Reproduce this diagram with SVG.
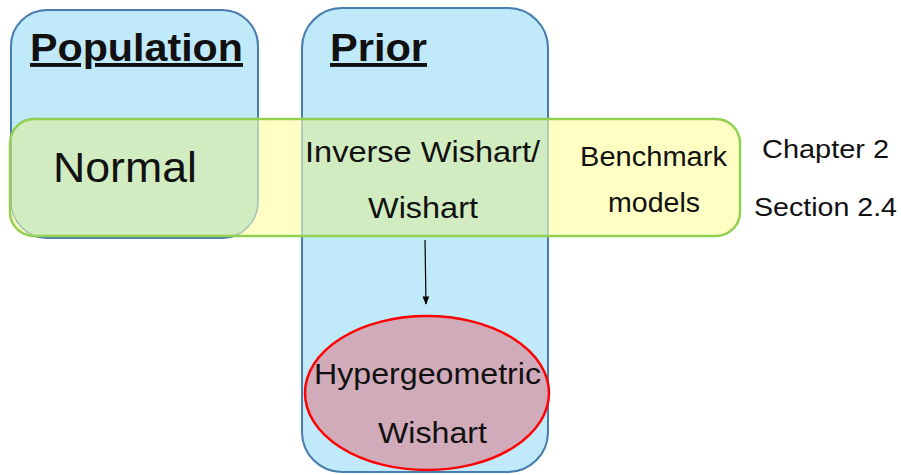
<svg xmlns="http://www.w3.org/2000/svg" width="901" height="475" viewBox="0 0 901 475">
<style>
.blue{fill:#c0e9f9;stroke:#4a7eb0;stroke-width:2}
.band{fill:#ffffc4}
.ov{fill:#d0ecc0}
.bandline{fill:none;stroke:#92d050;stroke-width:2.5}
.t{font-family:"Liberation Sans",Arial,sans-serif;fill:#111}
.h{font-weight:bold;text-decoration:underline}
</style>
<defs>
<clipPath id="cpPop"><rect x="11" y="10" width="247" height="228" rx="36"/></clipPath>
<clipPath id="cpPrior"><rect x="302" y="8" width="246" height="464" rx="40"/></clipPath>
<marker id="ah" viewBox="0 0 10 10" refX="9" refY="5" markerWidth="7" markerHeight="7" orient="auto"><path d="M0,1 L10,5 L0,9 z" fill="#000"/></marker>
</defs>
<g id="population">
<rect class="blue" x="11" y="10" width="247" height="228" rx="36"/>
<text class="t h" x="30" y="61" font-size="39" textLength="213" lengthAdjust="spacingAndGlyphs">Population</text>
</g>
<g id="prior">
<rect class="blue" x="302" y="8" width="246" height="464" rx="40"/>
<text class="t h" x="330" y="61" font-size="39" textLength="97" lengthAdjust="spacingAndGlyphs">Prior</text>
</g>
<g id="benchmark">
<rect class="band" x="10" y="119" width="730" height="117" rx="24"/>
<rect class="ov" x="10" y="119" width="730" height="117" rx="24" clip-path="url(#cpPop)"/>
<rect class="ov" x="10" y="119" width="730" height="117" rx="24" clip-path="url(#cpPrior)"/>
<rect x="11" y="10" width="247" height="228" rx="36" fill="none" stroke="#4a7eb0" stroke-width="1.5" opacity="0.45"/>
<rect x="302" y="8" width="246" height="464" rx="40" fill="none" stroke="#4a7eb0" stroke-width="1.5" opacity="0.45"/>
<rect class="bandline" x="10" y="119" width="730" height="117" rx="24"/>
<text class="t" x="580" y="166" font-size="27" textLength="147" lengthAdjust="spacingAndGlyphs">Benchmark</text>
<text class="t" x="608" y="212" font-size="28" textLength="92" lengthAdjust="spacingAndGlyphs">models</text>
</g>
<g id="normal">
<text class="t" x="53" y="182" font-size="43" textLength="144" lengthAdjust="spacingAndGlyphs">Normal</text>
</g>
<g id="wishart">
<text class="t" x="305" y="162" font-size="29" textLength="235" lengthAdjust="spacingAndGlyphs">Inverse Wishart/</text>
<text class="t" x="368" y="218" font-size="30" textLength="110" lengthAdjust="spacingAndGlyphs">Wishart</text>
</g>
<g id="chapter">
<text class="t" x="762" y="158" font-size="26" textLength="127" lengthAdjust="spacingAndGlyphs">Chapter 2</text>
<text class="t" x="754" y="216" font-size="26" textLength="143" lengthAdjust="spacingAndGlyphs">Section 2.4</text>
</g>
<g id="connectors">
<line x1="425" y1="240" x2="426" y2="304" stroke="#000" stroke-width="1.2" marker-end="url(#ah)"/>
</g>
<g id="hypergeometric">
<ellipse cx="427" cy="393" rx="122" ry="77" fill="#d1abb9" stroke="#ff0000" stroke-width="2.5"/>
<text class="t" x="314" y="384" font-size="29" textLength="227" lengthAdjust="spacingAndGlyphs">Hypergeometric</text>
<text class="t" x="378" y="443" font-size="30" textLength="109" lengthAdjust="spacingAndGlyphs">Wishart</text>
</g>
</svg>
